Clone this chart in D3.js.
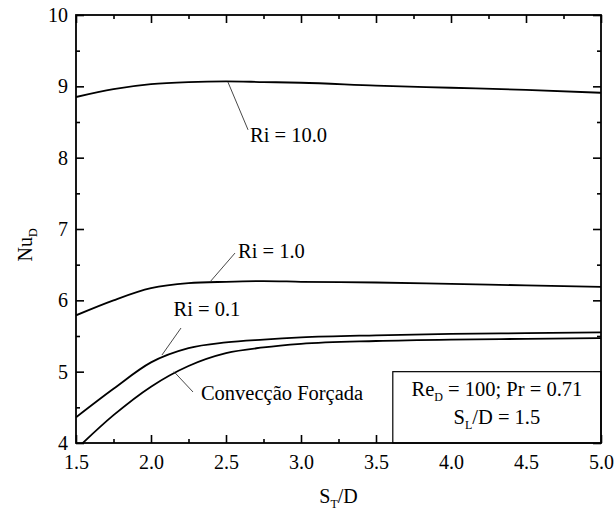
<!DOCTYPE html>
<html>
<head>
<meta charset="utf-8">
<script src="https://cdn.jsdelivr.net/npm/d3@7"></script>
<style>
  body { margin: 0; background: #fff; }
  svg text { font-family: "Liberation Serif", "Times New Roman", Times, serif; fill: #000; }
</style>
</head>
<body>
<svg id="chart"></svg>
<script>
// S_T/D values shared by all curves
var xValues = [1.5, 1.75, 2.0, 2.25, 2.5, 2.75, 3.0, 3.5, 4.0, 4.5, 5.0];

// Nu_D for each case
var ri10   = [8.85, 8.96, 9.03, 9.06, 9.07, 9.06, 9.05, 9.01, 8.98, 8.95, 8.91];
var ri1    = [5.79, 6.00, 6.17, 6.24, 6.26, 6.27, 6.26, 6.25, 6.23, 6.21, 6.19];
var ri01   = [4.36, 4.76, 5.13, 5.33, 5.41, 5.45, 5.48, 5.51, 5.53, 5.54, 5.55];
var forced = [3.91, 4.39, 4.79, 5.08, 5.26, 5.34, 5.39, 5.43, 5.45, 5.46, 5.47];

var xTicks = [1.5, 2.0, 2.5, 3.0, 3.5, 4.0, 4.5, 5.0];
var yTicks = [4, 5, 6, 7, 8, 9, 10];

var width = 615, height = 517;
var margin = {top: 15, right: 14, bottom: 74, left: 76};
var innerW = width - margin.left - margin.right,
    innerH = height - margin.top - margin.bottom;
var serif = "'Liberation Serif', 'Times New Roman', serif";

var svg = d3.select("#chart")
  .attr("width", width)
  .attr("height", height);

var g = svg.append("g")
  .attr("transform", "translate(" + margin.left + "," + margin.top + ")");

var x = d3.scaleLinear().domain([1.5, 5.0]).range([0, innerW]);
var y = d3.scaleLinear().domain([4, 10]).range([innerH, 0]);

g.append("clipPath").attr("id", "clip")
  .append("rect").attr("width", innerW).attr("height", innerH);

// Curves
var line = d3.line()
  .x(function(d) { return x(d[0]); })
  .y(function(d) { return y(d[1]); })
  .curve(d3.curveMonotoneX);

[ri10, ri1, ri01, forced].forEach(function(s) {
  g.append("path")
    .datum(xValues.map(function(v, i) { return [v, s[i]]; }))
    .attr("clip-path", "url(#clip)")
    .attr("fill", "none")
    .attr("stroke", "#000")
    .attr("stroke-width", 1.8)
    .attr("d", line);
});

// Curve labels with leader lines (anchor on the curve, label in data units)
var labels = [
  {text: "Ri = 10.0", ax: 2.513, ay: 9.06, lx: 2.647, ly: 8.39, tx: 2.66, ty: 8.22},
  {text: "Ri = 1.0",  ax: 2.393, ay: 6.257, lx: 2.56, ly: 6.663, tx: 2.58, ty: 6.6},
  {text: "Ri = 0.1",  ax: 2.073, ay: 5.233, lx: 2.2, ly: 5.612, tx: 2.15, ty: 5.78},
  {text: "Convecção Forçada", ax: 2.153, ay: 5.0, lx: 2.28, ly: 4.715, tx: 2.333, ty: 4.6}
];
labels.forEach(function(l) {
  g.append("line")
    .attr("x1", x(l.ax)).attr("y1", y(l.ay))
    .attr("x2", x(l.lx)).attr("y2", y(l.ly))
    .attr("stroke", "#333").attr("stroke-width", 0.9);
  g.append("text")
    .attr("x", x(l.tx)).attr("y", y(l.ty))
    .style("font-family", serif)
    .style("font-size", "20.5px")
    .text(l.text);
});

// Axes: ticks inside on all four sides
function styleAxis(sel) {
  sel.attr("font-family", null);
  sel.select(".domain").remove();
  sel.selectAll(".tick line").attr("stroke", "#000").attr("stroke-width", 1.6);
  sel.selectAll(".tick text").style("font-size", "20px").style("font-family", serif);
}
var xMinor = d3.range(1.75, 5.0, 0.5);
var yMinor = d3.range(4.5, 10, 1);

g.append("g").attr("transform", "translate(0," + innerH + ")")
  .call(d3.axisBottom(x).tickValues(xTicks).tickFormat(d3.format(".1f")).tickSizeInner(-8).tickPadding(12))
  .call(styleAxis);
g.append("g").attr("transform", "translate(0," + innerH + ")")
  .call(d3.axisBottom(x).tickValues(xMinor).tickFormat("").tickSizeInner(-4))
  .call(styleAxis);
g.append("g")
  .call(d3.axisTop(x).tickValues(xTicks).tickFormat("").tickSizeInner(-8))
  .call(styleAxis);
g.append("g")
  .call(d3.axisTop(x).tickValues(xMinor).tickFormat("").tickSizeInner(-4))
  .call(styleAxis);
g.append("g")
  .call(d3.axisLeft(y).tickValues(yTicks).tickFormat(d3.format("d")).tickSizeInner(-8).tickPadding(8))
  .call(styleAxis);
g.append("g")
  .call(d3.axisLeft(y).tickValues(yMinor).tickFormat("").tickSizeInner(-4))
  .call(styleAxis);
g.append("g").attr("transform", "translate(" + innerW + ",0)")
  .call(d3.axisRight(y).tickValues(yTicks).tickFormat("").tickSizeInner(-8))
  .call(styleAxis);
g.append("g").attr("transform", "translate(" + innerW + ",0)")
  .call(d3.axisRight(y).tickValues(yMinor).tickFormat("").tickSizeInner(-4))
  .call(styleAxis);

// Info box (covers the ticks underneath)
var boxX = x(3.612), boxY = y(5.0);
g.append("rect")
  .attr("x", boxX).attr("y", boxY)
  .attr("width", innerW - boxX).attr("height", innerH - boxY)
  .attr("fill", "#fff").attr("stroke", "#000").attr("stroke-width", 1.2);
var bcx = (boxX + innerW) / 2;
var t1 = g.append("text").attr("x", bcx).attr("y", boxY + 24)
  .attr("text-anchor", "middle").style("font-family", serif).style("font-size", "20.5px");
t1.append("tspan").text("Re");
t1.append("tspan").attr("dy", 5).style("font-size", "12px").text("D");
t1.append("tspan").attr("dy", -5).text(" = 100; Pr = 0.71");
var t2 = g.append("text").attr("x", bcx).attr("y", boxY + 52)
  .attr("text-anchor", "middle").style("font-family", serif).style("font-size", "20.5px");
t2.append("tspan").text("S");
t2.append("tspan").attr("dy", 5).style("font-size", "12px").text("L");
t2.append("tspan").attr("dy", -5).text("/D = 1.5");

// Frame
g.append("rect")
  .attr("width", innerW).attr("height", innerH)
  .attr("fill", "none").attr("stroke", "#000").attr("stroke-width", 1.8);

// Axis titles
var xt = svg.append("text")
  .attr("x", margin.left + innerW / 2).attr("y", 503)
  .attr("text-anchor", "middle").style("font-family", serif).style("font-size", "20px");
xt.append("tspan").text("S");
xt.append("tspan").attr("dy", 5).style("font-size", "12px").text("T");
xt.append("tspan").attr("dy", -5).text("/D");

var yt = svg.append("text")
  .attr("transform", "translate(32," + (margin.top + innerH / 2 + 16) + ") rotate(-90)")
  .attr("text-anchor", "middle").style("font-family", serif).style("font-size", "20px");
yt.append("tspan").text("Nu");
yt.append("tspan").attr("dy", 5).style("font-size", "12px").text("D");
</script>
</body>
</html>
